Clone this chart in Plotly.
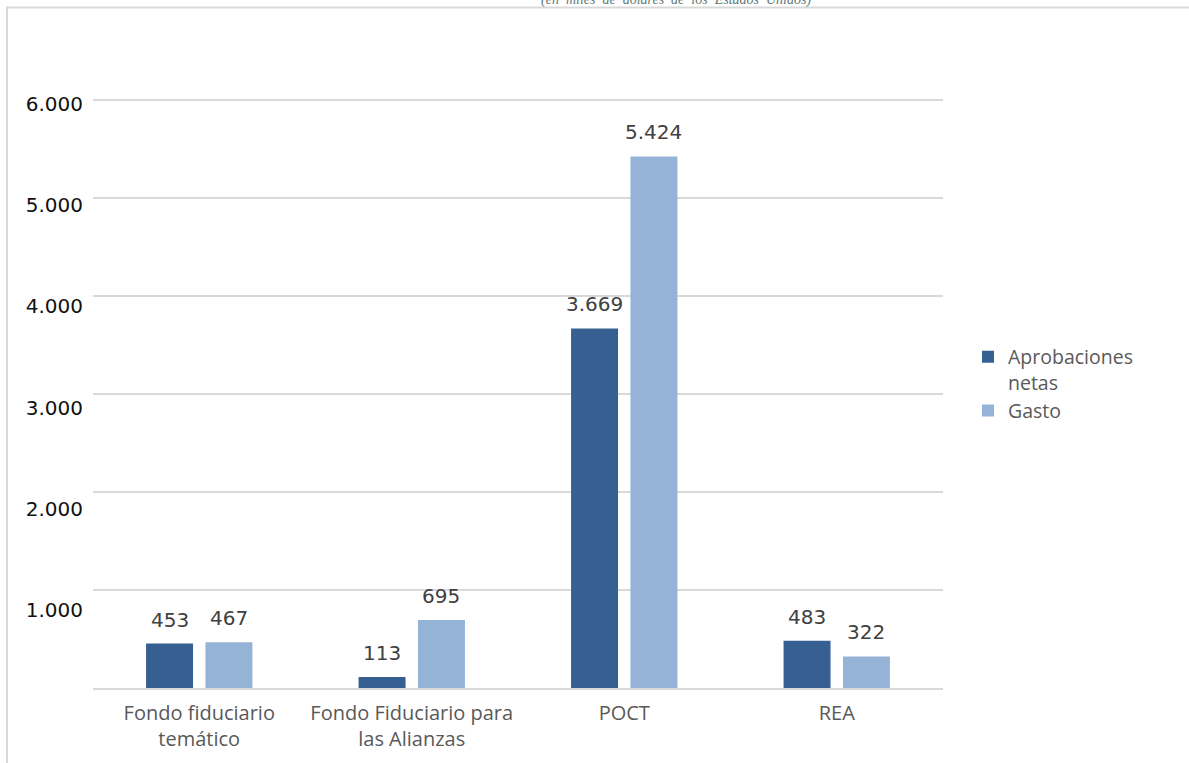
import plotly.graph_objects as go

categories = ["Fondo fiduciario<br>temático", "Fondo Fiduciario para<br>las Alianzas", "POCT", "REA"]
aprobaciones = [453, 113, 3669, 483]
gasto = [467, 695, 5424, 322]
series_names = ["Aprobaciones<br>netas", "Gasto"]
y_ticks = [1000, 2000, 3000, 4000, 5000, 6000]
subtitle = "(en  miles  de  dólares  de  los  Estados  Unidos)"

W, H = 1189, 763
ML, MR, MT, MB = 93, 246, 97, 75
pw, ph = W - ML - MR, H - MT - MB

def px_x(x):
    return (x - ML) / pw

def px_y(y):
    return (H - MB - y) / ph

def fmt(v):
    return f"{v:,}".replace(",", ".")

dark = "#366092"
light = "#95B3D7"
label_font = dict(family="DejaVu Sans", size=20, color="#404040")

fig = go.Figure()
series = [(series_names[0], aprobaciones, dark), (series_names[1], gasto, light)]
for name, vals, col in series:
    fig.add_trace(go.Bar(
        x=categories, y=vals, name=name,
        marker=dict(color=col, line=dict(width=0)),
        hoverinfo="x+y",
    ))
# invisible trace carrying the tick-label axis
fig.add_trace(go.Scatter(x=[categories[0]], y=[None], yaxis="y2",
                         showlegend=False, hoverinfo="skip", mode="markers"))

annotations = []
offset = 29.7
for k, (name, vals, col) in enumerate(series):
    for cat, v in zip(categories, vals):
        annotations.append(dict(
            x=cat, y=v, xref="x", yref="y", text=fmt(v),
            showarrow=False, xanchor="center", yanchor="middle",
            xshift=(-offset if k == 0 else offset), yshift=24,
            font=label_font,
        ))
annotations.append(dict(
    text="<i>" + subtitle + "</i>", xref="paper", yref="paper",
    x=px_x(676), y=px_y(10), xanchor="center", yanchor="bottom",
    showarrow=False,
    font=dict(family="Liberation Serif", size=14, color="#5f7a7a"),
))

fig.update_layout(
    width=W, height=H,
    margin=dict(l=ML, r=MR, t=MT, b=MB),
    paper_bgcolor="white", plot_bgcolor="white",
    separators=",.",
    barmode="group", bargap=0.441, bargroupgap=0.209,
    showlegend=True,
    legend=dict(
        x=px_x(968), y=px_y(384), xanchor="left", yanchor="middle",
        font=dict(family="Open Sans", size=19.5, color="#595959"),
        valign="top", tracegroupgap=0, itemwidth=30,
        bgcolor="rgba(0,0,0,0)",
    ),
    xaxis=dict(
        showline=True, linecolor="#d9d9d9", linewidth=2,
        showgrid=False, ticks="",
        tickfont=dict(family="Open Sans", size=20, color="#595959"),
        ticklabelstandoff=6,
    ),
    yaxis=dict(
        range=[0, 6030], tickvals=y_ticks, showticklabels=False,
        showgrid=True, gridcolor="#d9d9d9", gridwidth=1.5,
        zeroline=False, showline=False, ticks="",
    ),
    yaxis2=dict(
        overlaying="y", side="left", range=[229, 6069],
        tickvals=y_ticks, tickformat=",d",
        showgrid=False, zeroline=False, showline=False, ticks="",
        tickfont=dict(family="DejaVu Sans", size=20, color="#111111"),
        ticklabelstandoff=9,
    ),
    shapes=[dict(
        type="rect", xref="paper", yref="paper",
        x0=px_x(7), x1=px_x(1200), y0=px_y(780), y1=px_y(7.5),
        line=dict(color="#d9d9d9", width=2), fillcolor="rgba(0,0,0,0)",
        layer="below",
    )],
    annotations=annotations,
)

fig.write_html("out.html", config={"displayModeBar": False},
               post_script="document.body.style.margin='0px';")
